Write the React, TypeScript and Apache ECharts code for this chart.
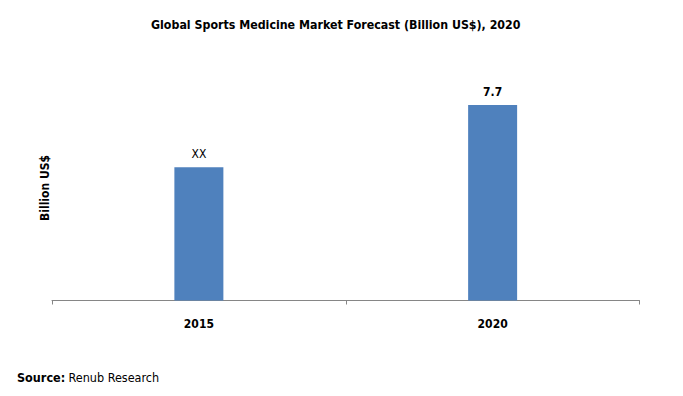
import React, { useEffect, useRef } from "react";
import * as echarts from "echarts";

const categories = ["2015", "2020"];
const values = [5.25, 7.7];
const valueLabels = ["XX", "7.7"];
const labelBold = [false, true];

export default function App() {
  const ref = useRef<HTMLDivElement>(null);
  useEffect(() => {
    if (!ref.current) return;
    const chart = echarts.init(ref.current, null, { renderer: "svg" });
    const font = "'DejaVu Sans Condensed', 'DejaVu Sans', sans-serif";
    chart.setOption({
      animation: false,
      textStyle: { fontFamily: font },
      title: {
        text: "Global Sports Medicine Market Forecast (Billion US$), 2020",
        left: 146,
        top: 14,
        textStyle: { fontSize: 12.3, fontWeight: "bold", color: "#000", fontFamily: font },
      },
      grid: { left: 52, right: 43.5, top: 46.6, bottom: 95.5, containLabel: false },
      xAxis: {
        type: "category",
        data: categories,
        axisLine: { lineStyle: { color: "#868686", width: 1 } },
        axisTick: { show: true, length: 4, lineStyle: { color: "#868686" } },
        axisLabel: { color: "#000", fontWeight: "bold", fontSize: 12, margin: 17, fontFamily: font },
      },
      yAxis: {
        type: "value",
        min: 0,
        max: 10,
        show: false,
        splitLine: { show: false },
      },
      series: [
        {
          type: "bar",
          barWidth: 49,
          data: values.map((v, i) => ({
            value: v,
            label: {
              show: true,
              position: "top",
              distance: 7,
              formatter: valueLabels[i],
              color: "#000",
              fontSize: 12,
              fontWeight: labelBold[i] ? "bold" : "normal",
              fontFamily: font,
            },
          })),
          itemStyle: { color: "#4F81BD" },
        },
      ],
      graphic: [
        {
          type: "text",
          x: 45,
          y: 188,
          rotation: Math.PI / 2,
          style: {
            text: "Billion US$",
            font: "bold 12px " + font,
            fill: "#000",
            align: "center",
            verticalAlign: "middle",
          },
        },
        {
          type: "text",
          x: 17,
          y: 377,
          style: {
            text: "{b|Source:} {n|Renub Research}",
            fill: "#000",
            verticalAlign: "middle",
            rich: {
              b: { font: "bold 12.5px " + font, fill: "#000" },
              n: { font: "12.5px " + font, fill: "#000" },
            },
          },
        },
      ],
    });
    return () => chart.dispose();
  }, []);
  return <div ref={ref} style={{ width: 683, height: 396, position: "absolute", left: 0, top: 0 }} />;
}
